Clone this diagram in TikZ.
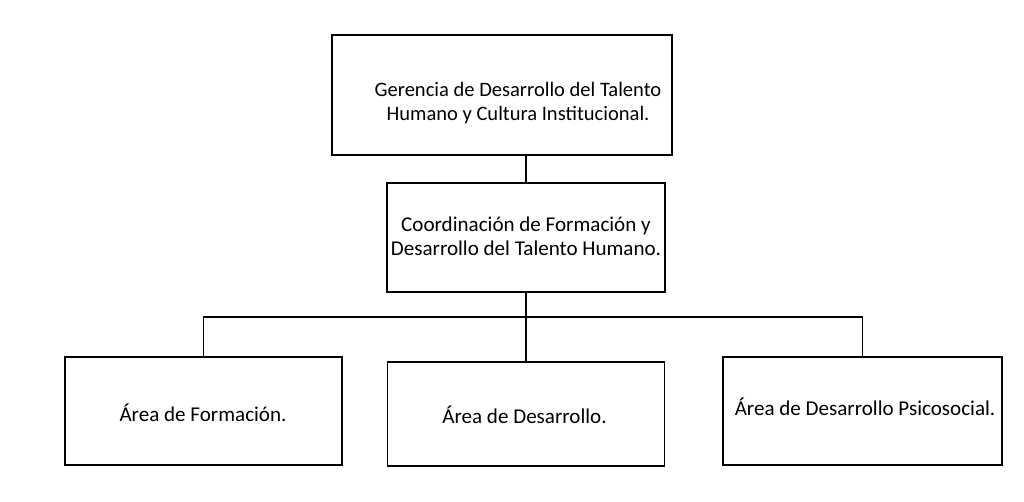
\documentclass[tikz,border=0pt]{standalone}
\usepackage{fontspec}
\setmainfont{Carlito}
\begin{document}
\begin{tikzpicture}[x=0.75pt,y=-0.75pt,
  boxnode/.style={draw=black,line width=1.3pt,inner sep=0pt,rectangle},
  txt/.style={inner sep=0pt,align=center,font=\fontsize{15.8pt}{18pt}\selectfont},
  conn/.style={draw=black,line width=1.3pt}]
\useasboundingbox (0,0) rectangle (1024,502);
% boxes
\node[boxnode,minimum width=255pt,minimum height=90pt] (b1) at (502,95) {};
\node[boxnode,minimum width=208.5pt,minimum height=81.75pt] (b2) at (526,237.5) {};
\node[boxnode,minimum width=207.75pt,minimum height=81pt] (b3) at (203.5,411) {};
\node[boxnode,minimum width=207.75pt,minimum height=78pt] (b4) at (526,414) {};
\node[boxnode,minimum width=209.25pt,minimum height=81pt] (b5) at (862.5,411) {};
% texts
\node[txt,font=\fontsize{15.4pt}{18pt}\selectfont] (t1) at (518,103.5) {Gerencia de Desarrollo del Talento\\Humano y Cultura Institucional.};
\node[txt] (t2) at (526,236) {Coordinación de Formación y\\Desarrollo del Talento Humano.};
\node[txt] (t3) at (203,413) {Área de Formación.};
\node[txt] (t4) at (524.5,415) {Área de Desarrollo.};
\node[txt] (t5) at (865,407) {Área de Desarrollo Psicosocial.};
% connectors
\coordinate (bus) at (526,317);
\coordinate (busL) at (b3.north |- bus);
\coordinate (busR) at (b5.north |- bus);
\draw[conn] (b2.north) -- (b2.north |- b1.south);
\draw[conn] (b2.south) -- (b4.north);
\draw[conn] (b3.north) -- (busL) -- (busR) -- (b5.north);
\end{tikzpicture}
\end{document}
